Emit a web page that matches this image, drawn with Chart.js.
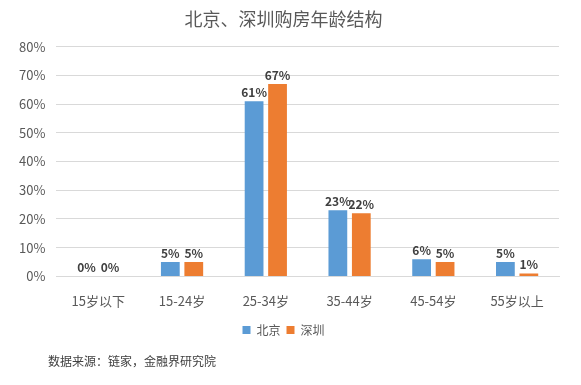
<!DOCTYPE html>
<html>
<head>
<meta charset="utf-8">
<script src="https://cdn.jsdelivr.net/npm/chart.js@4/dist/chart.umd.min.js"></script>
<style>
  html, body { margin: 0; padding: 0; background: #fff; }
  #wrap { position: relative; width: 581px; height: 385px; }
  #source {
    position: absolute; left: 48px; top: 352px;
    font: 12px "Noto Sans CJK SC", sans-serif; color: #404040;
  }
</style>
</head>
<body>
<div id="wrap">
  <canvas id="chart" width="581" height="385"></canvas>
  <div id="source">数据来源：链家，金融界研究院</div>
</div>
<script>
const categories = ["15岁以下", "15-24岁", "25-34岁", "35-44岁", "45-54岁", "55岁以上"];
const beijing = [0, 5, 61, 23, 6, 5];
const shenzhen = [0, 5, 67, 22, 5, 1];
const seriesNames = ["北京", "深圳"];
const titleText = "北京、深圳购房年龄结构";

const fontFamily = '"Noto Sans CJK SC", "Noto Sans", sans-serif';

// labels above each bar
const barLabels = {
  id: "barLabels",
  afterDatasetsDraw(chart) {
    const ctx = chart.ctx;
    ctx.save();
    ctx.font = "bold 12px " + fontFamily;
    ctx.fillStyle = "#404040";
    ctx.textAlign = "center";
    ctx.textBaseline = "bottom";
    chart.data.datasets.forEach((ds, i) => {
      chart.getDatasetMeta(i).data.forEach((bar, j) => {
        ctx.fillText(ds.data[j] + "%", bar.x, bar.y - 3);
      });
    });
    ctx.restore();
  }
};

new Chart(document.getElementById("chart").getContext("2d"), {
  type: "bar",
  data: {
    labels: categories,
    datasets: [
      { label: seriesNames[0], data: beijing, backgroundColor: "#5B9BD5",
        categoryPercentage: 0.56, barPercentage: 0.8 },
      { label: seriesNames[1], data: shenzhen, backgroundColor: "#ED7D31",
        categoryPercentage: 0.56, barPercentage: 0.8 }
    ]
  },
  options: {
    responsive: false,
    animation: false,
    layout: { padding: { left: 8, right: 22, top: 0, bottom: 39 } },
    plugins: {
      title: {
        display: true,
        text: titleText,
        color: "#595959",
        font: { family: fontFamily, size: 18, weight: "normal" },
        padding: { top: 8, bottom: 17 }
      },
      legend: {
        display: true,
        position: "bottom",
        labels: {
          color: "#595959",
          font: { family: fontFamily, size: 12 },
          boxWidth: 8, boxHeight: 8,
          padding: 6
        }
      },
      tooltip: { enabled: false }
    },
    scales: {
      x: {
        grid: { display: false },
        border: { color: "#d9d9d9" },
        ticks: { color: "#595959", font: { family: fontFamily, size: 13 }, padding: 9 }
      },
      y: {
        min: 0, max: 80,
        ticks: {
          stepSize: 10,
          color: "#595959",
          font: { family: fontFamily, size: 13 },
          padding: 11,
          callback: v => v + "%"
        },
        grid: { color: "#d9d9d9", drawTicks: false },
        border: { display: false }
      }
    }
  },
  plugins: [barLabels]
});
</script>
</body>
</html>
